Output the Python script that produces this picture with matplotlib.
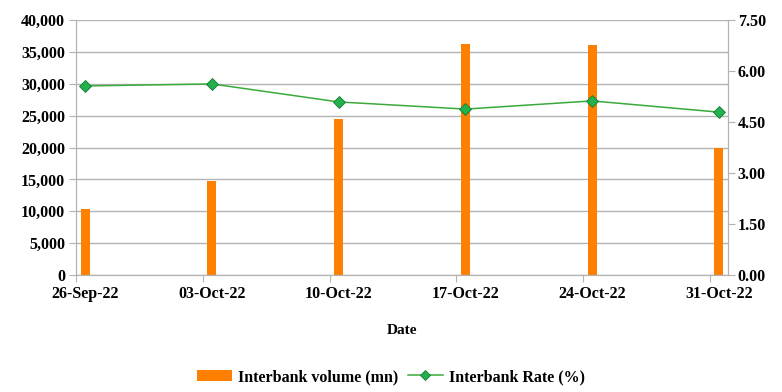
import numpy as np
import pandas as pd
import matplotlib
matplotlib.use('Agg')
import matplotlib.pyplot as plt
import matplotlib.dates as mdates
from matplotlib.ticker import FuncFormatter

dates = ['2022-09-26', '2022-10-03', '2022-10-10', '2022-10-17', '2022-10-24', '2022-10-31']
date_labels = ['26-Sep-22', '03-Oct-22', '10-Oct-22', '17-Oct-22', '24-Oct-22', '31-Oct-22']
volume = [10300, 14800, 24400, 36300, 36100, 19900]
rate = [5.56, 5.62, 5.09, 4.88, 5.12, 4.79]

plt.rcParams['font.family'] = ['Liberation Serif', 'DejaVu Serif']
plt.rcParams['font.weight'] = 'bold'
plt.rcParams['axes.labelweight'] = 'bold'
plt.rcParams['font.size'] = 11.5

x = mdates.date2num(pd.to_datetime(dates))
grid_col = '#b3b3b3'

fig = plt.figure(figsize=(7.82, 3.92), dpi=100)
ax = fig.add_axes([76/782, 1-275/392, (728-76)/782, (275-20)/392])
ax2 = ax.twinx()

ax.bar(x, volume, width=0.5, color='#ff8000', zorder=2, label='Interbank volume (mn)')
ax2.plot(x, rate, color='#3aaa3a', lw=1.1, marker='D', ms=6.5,
         mfc='#22b14c', mec='#157a30', mew=0.6, zorder=3, label='Interbank Rate (%)')

ax.set_xlim(x[0] - 0.5, x[-1] + 0.5)
ax.set_ylim(0, 40000)
ax.set_yticks(np.arange(0, 40001, 5000))
ax.yaxis.set_major_formatter(FuncFormatter(lambda v, p: f'{int(v):,}'))
ax2.set_ylim(0, 7.5)
ax2.set_yticks(np.arange(0, 7.51, 1.5))
ax2.yaxis.set_major_formatter(FuncFormatter(lambda v, p: f'{v:.2f}'))

ax.set_xticks(x - 0.5)
ax.set_xticklabels([])
ax.set_xticks(x, minor=True)
ax.set_xticklabels(date_labels, minor=True)
ax.tick_params(axis='x', which='minor', length=0, pad=8)
ax.tick_params(axis='x', which='major', length=5, color=grid_col)
ax.tick_params(axis='y', length=5, color=grid_col, pad=3)
ax2.tick_params(axis='y', length=5, color=grid_col, pad=2)

ax.yaxis.grid(True, color=grid_col, lw=1)
ax.set_axisbelow(True)
for a in (ax, ax2):
    a.spines['top'].set_visible(False)
    for s in ('left', 'right', 'bottom'):
        a.spines[s].set_color(grid_col)

ax.set_xlabel('Date', fontsize=11, labelpad=16)

h1, l1 = ax.get_legend_handles_labels()
h2, l2 = ax2.get_legend_handles_labels()
fig.legend(h1 + h2, l1 + l2, loc='center', bbox_to_anchor=(0.5, 1-377/392), ncol=2,
           frameon=False, handlelength=2.2, columnspacing=0.6, handletextpad=0.4,
           markerscale=0.75)

fig.savefig('out.png', dpi=100)
